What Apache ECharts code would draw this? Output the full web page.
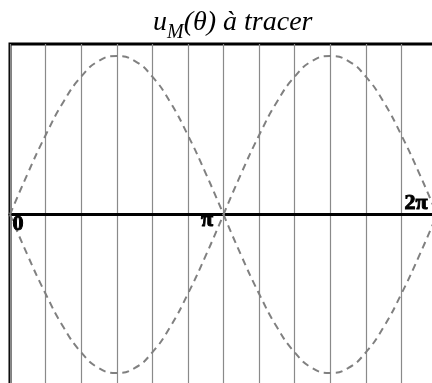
<!DOCTYPE html>
<html>
<head>
<meta charset="utf-8">
<script src="https://cdn.jsdelivr.net/npm/echarts@6/dist/echarts.min.js"></script>
<style>
  html, body { margin: 0; padding: 0; background: #fff; }
  #chart { width: 432px; height: 383px; }
</style>
</head>
<body>
<div id="chart"></div>
<script>
// angles in degrees, every 15°
const theta = [0, 15, 30, 45, 60, 75, 90, 105, 120, 135, 150, 165, 180,
  195, 210, 225, 240, 255, 270, 285, 300, 315, 330, 345, 360]
// upper dashed curve
const upper = [0, 0.26, 0.5, 0.71, 0.87, 0.97, 1, 0.97, 0.87, 0.71, 0.5, 0.26, 0,
  0.26, 0.5, 0.71, 0.87, 0.97, 1, 0.97, 0.87, 0.71, 0.5, 0.26, 0]
// lower dashed curve
const lower = [0, -0.26, -0.5, -0.71, -0.87, -0.97, -1, -0.97, -0.87, -0.71, -0.5, -0.26, 0,
  -0.26, -0.5, -0.71, -0.87, -0.97, -1, -0.97, -0.87, -0.71, -0.5, -0.26, 0]
// labels on the horizontal axis
const tickLabels = ['0', 'π', '2π']
const tickAt = [0, 180, 360]

const rad = d => d * Math.PI / 180

// break the curve at the cusp (180°) so each arch is smoothed alone
const buildCurve = values => {
  const out = []
  theta.forEach((t, i) => {
    out.push([rad(t), values[i]])
    if (t === 180) {
      out.push('-')
      out.push([rad(t), values[i]])
    }
  })
  return out
}

const dashStyle = { color: '#808080', width: 2, type: [7, 5] }

const labelOffsets = [[8, 10], [-16.5, 6], [-21, -11]]

const chart = echarts.init(document.getElementById('chart'))
chart.setOption({
  animation: false,
  title: {
    text: '{i|u}{s|M}{i|(θ) à tracer}',
    left: 153,
    top: 9,
    padding: 0,
    textStyle: {
      rich: {
        i: { fontFamily: 'Liberation Serif', fontStyle: 'italic', fontWeight: 'normal', fontSize: 28, color: '#000', lineHeight: 28 },
        s: { fontFamily: 'Liberation Serif', fontStyle: 'italic', fontWeight: 'normal', fontSize: 20, color: '#000', lineHeight: 20, padding: [20, 0, 0, 0] }
      }
    }
  },
  grid: {
    left: 10,
    top: 44,
    right: -5,
    bottom: -2,
    outerBoundsMode: 'none',
    show: true,
    borderColor: '#000',
    borderWidth: 3
  },
  xAxis: {
    type: 'value',
    min: 0,
    max: 2 * Math.PI,
    interval: Math.PI / 6,
    axisLine: { onZero: true, lineStyle: { color: '#000', width: 3 } },
    axisTick: { show: false },
    axisLabel: { show: false },
    splitLine: { show: true, lineStyle: { color: '#8a8a8a', width: 1.2 } }
  },
  yAxis: {
    type: 'value',
    min: -1.076,
    max: 1.076,
    axisLine: { show: false },
    axisTick: { show: false },
    axisLabel: { show: false },
    splitLine: { show: false }
  },
  series: [
    {
      type: 'line',
      data: buildCurve(upper),
      smooth: true,
      symbol: 'none',
      lineStyle: dashStyle,
      z: 3
    },
    {
      type: 'line',
      data: buildCurve(lower),
      smooth: true,
      symbol: 'none',
      lineStyle: dashStyle,
      z: 3
    },
    {
      type: 'scatter',
      symbolSize: 1,
      itemStyle: { opacity: 0 },
      z: 4,
      data: tickLabels.map((name, i) => ({
        value: [rad(tickAt[i]), 0],
        label: {
          show: true,
          formatter: name,
          position: 'inside',
          offset: labelOffsets[i],
          fontFamily: 'Liberation Serif',
          fontWeight: 'bold',
          fontSize: 22,
          color: '#000',
          opacity: 1,
          textBorderColor: '#000',
          textBorderWidth: 1
        }
      }))
    }
  ]
})
</script>
</body>
</html>
